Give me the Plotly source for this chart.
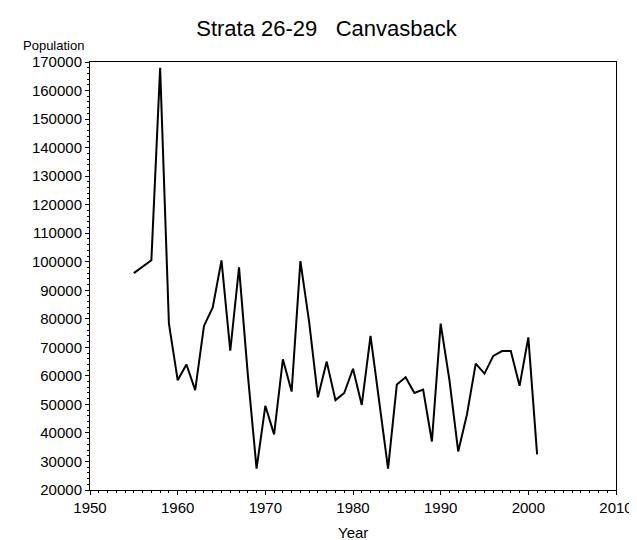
import plotly.graph_objects as go

years = list(range(1955, 2002))
population = [
    96000, 98300, 100500, 168000, 78400, 58500, 64000, 55000, 77500, 84000,
    100500, 68800, 98000, 60500, 27500, 49500, 39500, 65800, 54500, 100200,
    78800, 52500, 65000, 51500, 54000, 62500, 49800, 74000, 50500, 27500,
    57000, 59500, 54000, 55200, 37000, 78300, 58500, 33500, 46500, 64300,
    60800, 67000, 68700, 68700, 56500, 73500, 32500,
]

title_text = "Strata 26-29   Canvasback"
y_label = "Population"
x_label = "Year"

W, H = 637, 540
L, R, T, B = 82, 27, 54, 58
pw, ph = W - L - R, H - T - B

FONT = "Liberation Sans, Arial, sans-serif"

fig = go.Figure()
fig.add_trace(go.Scatter(
    x=years, y=population, mode="lines",
    line=dict(color="black", width=2),
    showlegend=False,
))

axis_common = dict(
    showgrid=False, zeroline=False,
    showline=True, linecolor="black", linewidth=1, mirror=True,
    ticks="outside", ticklen=4, tickwidth=1, tickcolor="black",
    tickfont=dict(family=FONT, size=15, color="black"),
)

fig.update_xaxes(
    range=[1950, 2010], tick0=1950, dtick=10,
    minor=dict(ticks="outside", ticklen=2, dtick=1, tickcolor="black", showgrid=False),
    **axis_common,
)
fig.update_yaxes(
    range=[20000, 170000], tick0=20000, dtick=10000, tickformat=".0f",
    minor=dict(ticks="outside", ticklen=2, dtick=2000, tickcolor="black", showgrid=False),
    **axis_common,
)

fig.update_layout(
    width=W, height=H,
    margin=dict(l=L, r=R, t=T, b=B, pad=0),
    paper_bgcolor="white", plot_bgcolor="white",
    font=dict(family=FONT, color="black"),
    title=dict(
        text=title_text, x=0.5, xref="container", xanchor="center",
        y=1 - 20 / H, yref="container", yanchor="middle",
        font=dict(family=FONT, size=22, color="black"),
    ),
    annotations=[
        dict(text=y_label, xref="paper", yref="paper",
             x=(78 - L) / pw, y=(H - B - 37) / ph,
             xanchor="right", yanchor="middle", showarrow=False,
             font=dict(family=FONT, size=13, color="black")),
        dict(text=x_label, xref="paper", yref="paper",
             x=0.5, y=(H - B - 524) / ph,
             xanchor="center", yanchor="middle", showarrow=False,
             font=dict(family=FONT, size=15, color="black")),
    ],
)

fig.write_html("out.html")
